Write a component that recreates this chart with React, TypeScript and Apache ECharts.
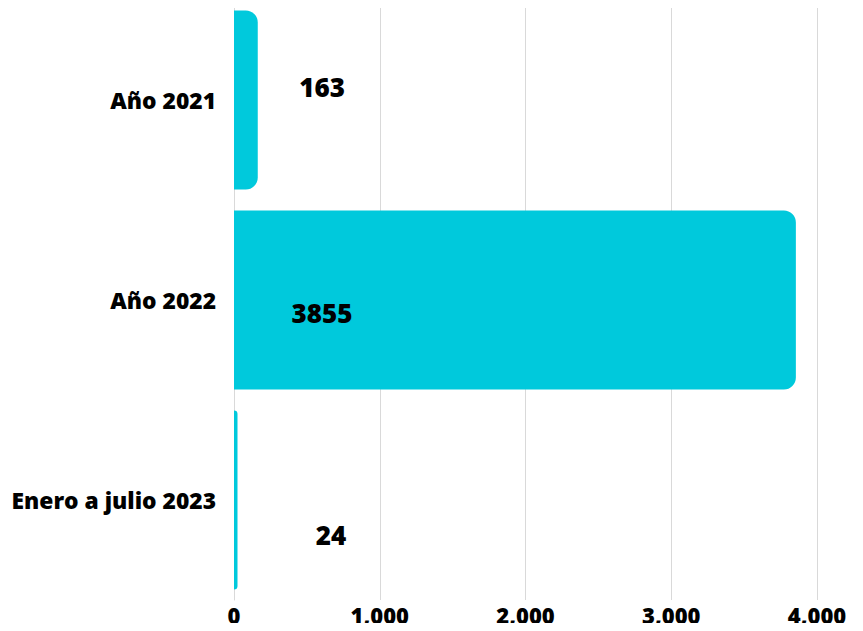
import React, { useEffect, useRef } from "react";
import * as echarts from "echarts";

const categories = ["Año 2021", "Año 2022", "Enero a julio 2023"];
const values = [163, 3855, 24];
const xTicks = [0, 1000, 2000, 3000, 4000];

// label anchor positions relative to each bar's top-left (styling only)
const labelPositions: [number, number][] = [
  [88, 76],
  [88, 102],
  [97, 124],
];

const fmt = (v: number) => String(v).replace(/\B(?=(\d{3})+(?!\d))/g, ",");

export default function App() {
  const ref = useRef<HTMLDivElement>(null);
  useEffect(() => {
    if (!ref.current) return;
    const chart = echarts.init(ref.current, null, { renderer: "svg" });
    const font = "'Open Sans', 'Noto Sans', sans-serif";
    chart.setOption({
      animation: false,
      grid: { left: 234, right: 46, top: 0, bottom: 31, containLabel: false },
      xAxis: {
        type: "value",
        min: xTicks[0],
        max: xTicks[xTicks.length - 1],
        interval: 1000,
        axisLine: { show: false },
        axisTick: { show: false },
        splitLine: { show: true, lineStyle: { color: "#d9d9d9", width: 1 } },
        axisLabel: {
          color: "#000",
          fontFamily: font,
          fontWeight: 800,
          fontSize: 22,
          margin: 4,
          formatter: fmt,
        },
      },
      yAxis: {
        type: "category",
        data: categories,
        inverse: true,
        axisLine: { show: true, lineStyle: { color: "#d9d9d9", width: 1 } },
        axisTick: { show: false },
        axisLabel: {
          color: "#000",
          fontFamily: font,
          fontWeight: 800,
          fontSize: 22.8,
          margin: 18,
        },
      },
      series: [
        {
          type: "bar",
          barWidth: 179,
          data: values.map((v, i) => ({
            value: v,
            label: { position: labelPositions[i] },
          })),
          itemStyle: { color: "#00C9DC", borderRadius: [0, 12, 12, 0] },
          label: {
            show: true,
            color: "#000",
            fontFamily: font,
            fontWeight: 800,
            fontSize: 26,
            align: "center",
            verticalAlign: "middle",
          },
        },
      ],
    });
    return () => chart.dispose();
  }, []);
  return <div ref={ref} style={{ width: 863, height: 631, margin: -8 }} />;
}
